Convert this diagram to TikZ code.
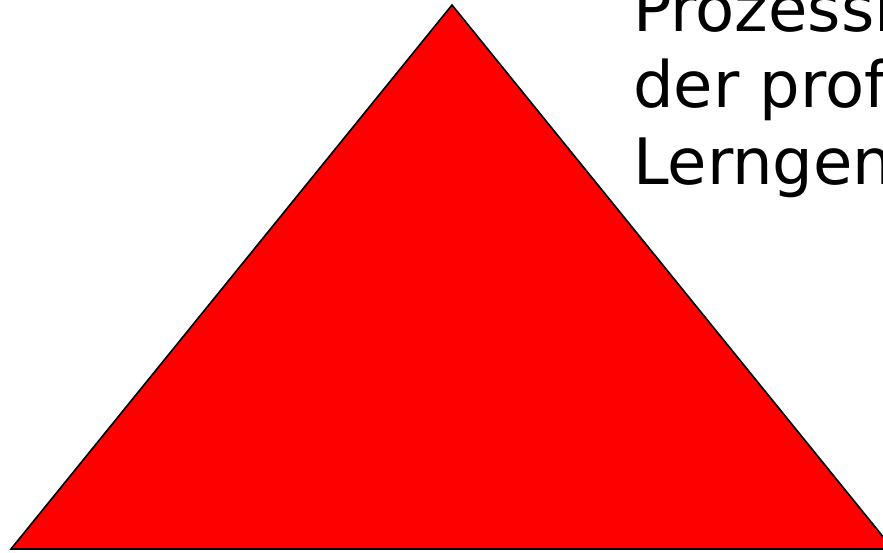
\documentclass[tikz,border=0pt]{standalone}
\usepackage{fontspec}
\setmainfont{DejaVu Sans}
\usetikzlibrary{positioning}

\begin{document}
\begin{tikzpicture}[x=1pt, y=1pt,
    pyramid/.style={draw=black, line width=1.6pt, fill=red, line join=miter},
    label/.style={anchor=base west, inner sep=0pt, font=\fontsize{64}{76}\selectfont}]
    \useasboundingbox (0,0) rectangle (883,552);
    \clip (0,0) rectangle (883,552);
    % Triangle
    \coordinate (apex) at (452,547);
    \coordinate (left) at (11,3);
    \coordinate (right) at (893,3);
    \draw[pyramid] (left) -- (apex) -- (right) -- cycle;
    % Text (cut off at the right edge)
    \node[label] (l1) at (633,520) {Prozessi};
    \node[label] (l2) at (633,444) {der prof};
    \node[label] (l3) at (633,367) {Lerngen};
\end{tikzpicture}
\end{document}
